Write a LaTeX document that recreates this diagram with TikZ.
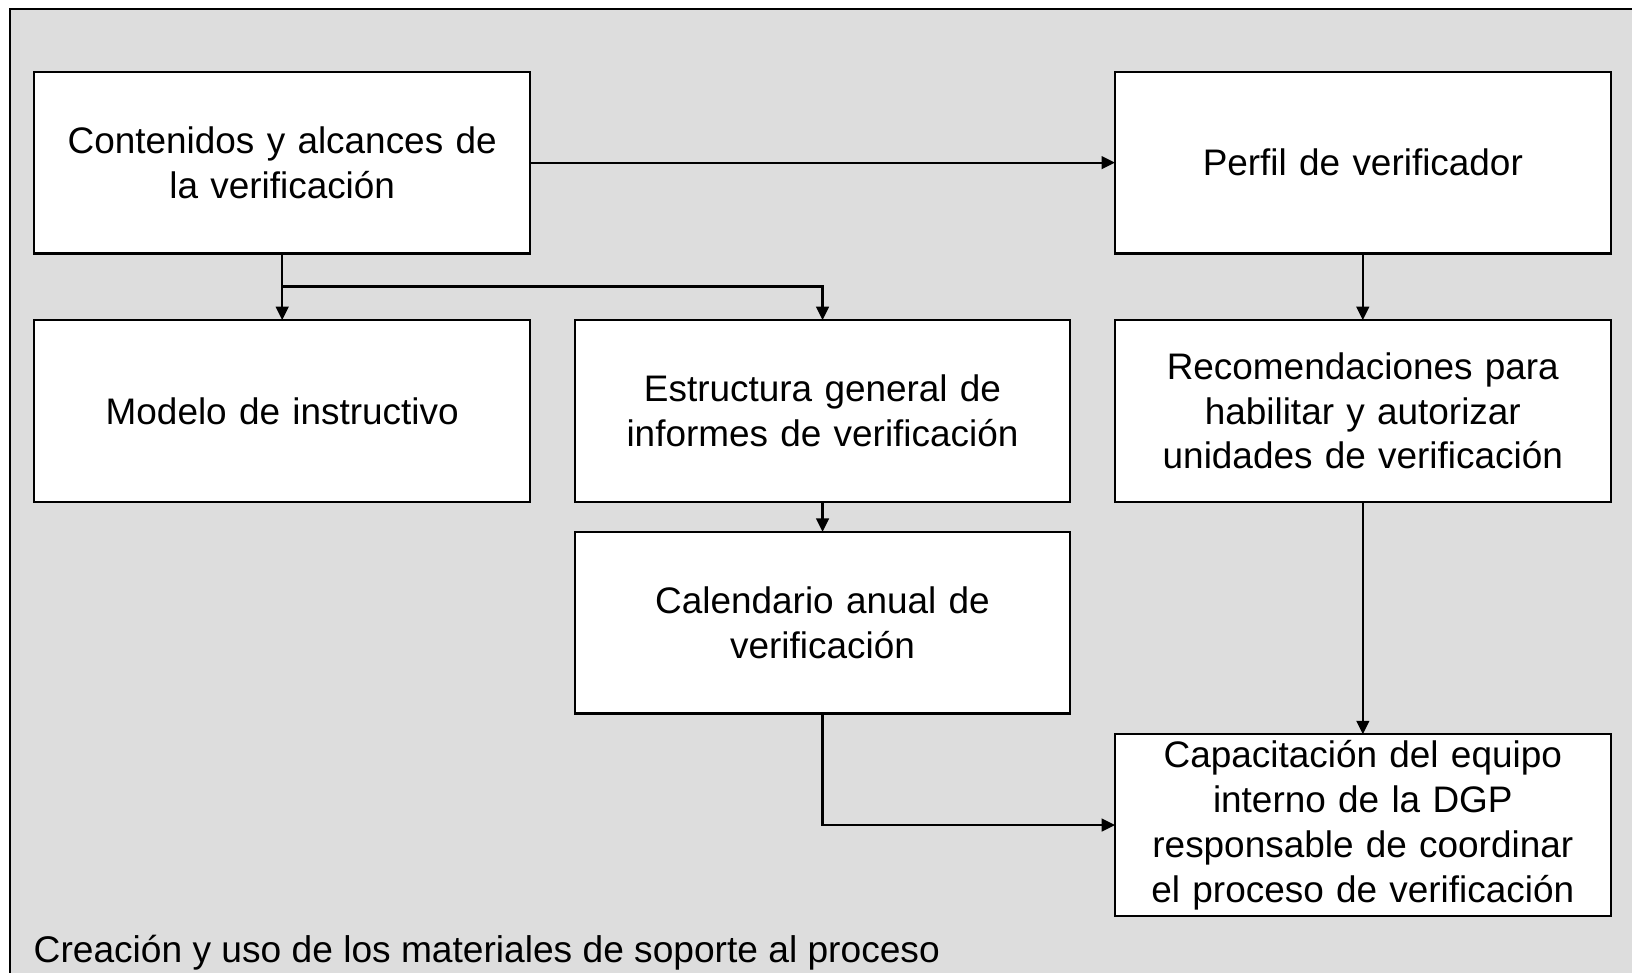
\documentclass[tikz,border=0pt]{standalone}
\usepackage{fontspec}
\setmainfont{Liberation Sans}
\usetikzlibrary{positioning}
\usetikzlibrary{matrix}
\usetikzlibrary{arrows.meta}

\definecolor{fondo}{RGB}{221,221,221}

\begin{document}
\begin{tikzpicture}[x=0.01cm,y=-0.01cm,
  caja/.style={draw,fill=white,line width=0.6pt,text width=4.7cm,align=center,
    minimum width=4.954cm,minimum height=1.815cm,inner xsep=0pt,inner ysep=0.5pt,outer sep=0pt,
    font=\fontsize{10.5}{12.74}\selectfont},
  flecha/.style={-{Triangle[length=3.8pt,width=3.6pt]},line width=0.6pt}]
\clip (0,0) rectangle (1632,973);
\fill[fondo] (10,9) rectangle (1700,1000);
\draw[line width=0.7pt] (1700,9) -- (10,9) -- (10,1000);
\matrix (m) [matrix of nodes,nodes={caja,anchor=center},column sep=4.25mm,inner sep=0pt,outer sep=0pt,anchor=north west] at (33.3,70.8)
  {
    {Contenidos y alcances de\\la verificación} & & Perfil de verificador \\[6.45mm]
    Modelo de instructivo & {Estructura general de\\informes de verificación} & {Recomendaciones para\\habilitar y autorizar\\unidades de verificación} \\[2.8mm]
    & {Calendario anual de\\verificación} & \\[1.87mm]
    & & {Capacitación del equipo\\interno de la DGP\\responsable de coordinar\\el proceso de verificación} \\
  };
\coordinate (rama) at ([yshift=-3.3mm]m-1-1.south);
\path[flecha]
  (m-1-1) edge (m-1-3)
          edge (m-2-1)
  (m-1-3) edge (m-2-3)
  (m-2-2) edge (m-3-2)
  (m-2-3) edge (m-4-3);
\draw[flecha] (rama) -| (m-2-2.north);
\draw[flecha] (m-3-2.south) |- (m-4-3.west);
\node[anchor=base west,font=\fontsize{10.56}{12.74}\selectfont,inner sep=0pt] (titulo) at (33,962) {Creación y uso de los materiales de soporte al proceso};
\end{tikzpicture}
\end{document}
